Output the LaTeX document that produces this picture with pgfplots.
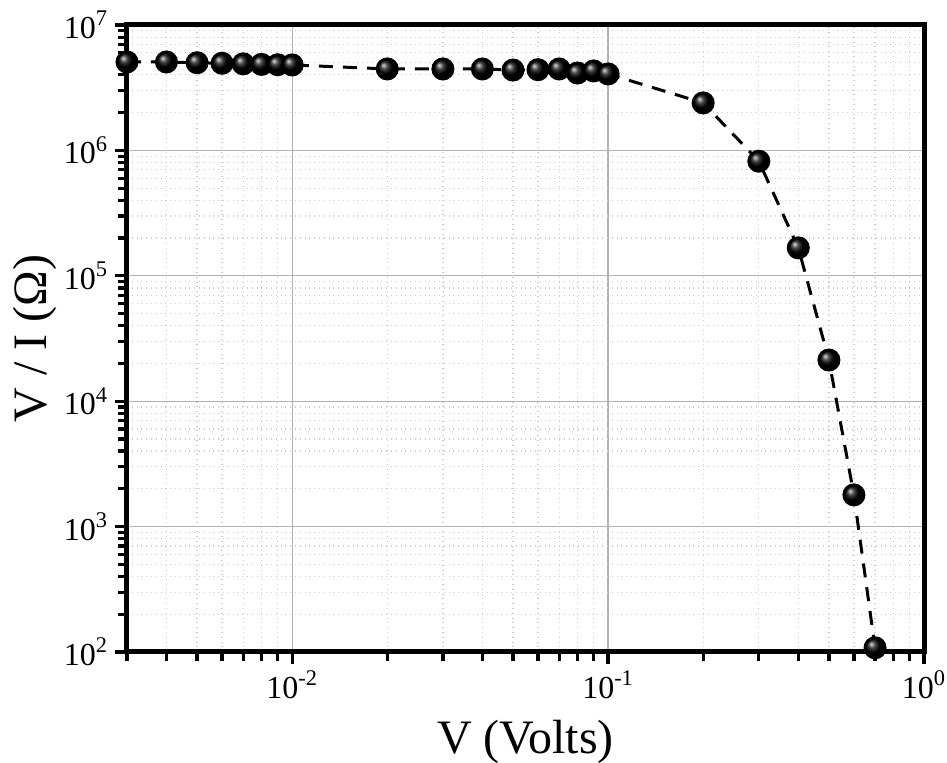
\documentclass[border=0pt]{standalone}
\usepackage{fontspec}
\setmainfont{Liberation Serif}
\usepackage{pgfplots}
\pgfplotsset{compat=1.18}
\begin{document}
\begin{tikzpicture}
\begin{loglogaxis}[
  at={(0,0)}, anchor=south west,
  scale only axis, width=398.5pt, height=313.5pt,
  xmin=0.003, xmax=1, ymin=1e2, ymax=1e7,
  xtick={0.01,0.1,1},
  xticklabels={10\textsuperscript{-2},10\textsuperscript{-1},10\textsuperscript{0}},
  ytick={1e2,1e3,1e4,1e5,1e6,1e7},
  yticklabels={10\textsuperscript{2},10\textsuperscript{3},10\textsuperscript{4},10\textsuperscript{5},10\textsuperscript{6},10\textsuperscript{7}},
  minor xtick={0.003,0.004,0.005,0.006,0.007,0.008,0.009,0.02,0.03,0.04,0.05,0.06,0.07,0.08,0.09,0.2,0.3,0.4,0.5,0.6,0.7,0.8,0.9},
  minor ytick={2e2,3e2,4e2,5e2,6e2,7e2,8e2,9e2,2e3,3e3,4e3,5e3,6e3,7e3,8e3,9e3,2e4,3e4,4e4,5e4,6e4,7e4,8e4,9e4,2e5,3e5,4e5,5e5,6e5,7e5,8e5,9e5,2e6,3e6,4e6,5e6,6e6,7e6,8e6,9e6},
  tick pos=left,
  tick align=outside,
  major tick length=6pt, minor tick length=4.5pt,
  every tick/.append style={black, line width=1.6pt, solid},
  every major tick/.append style={black, line width=1.6pt, solid},
  every minor tick/.append style={black, line width=1.6pt, solid},
  axis line style={line width=2.5pt},
  grid=both,
  major grid style={gray!60, line width=0.6pt, solid},
  minor grid style={gray!40, dotted, line width=0.6pt},
  tick label style={font=\fontsize{16}{18}\selectfont},
  label style={font=\fontsize{24}{28}\selectfont},
  xlabel={V (Volts)}, ylabel={V / I (Ω)},
  xlabel style={at={(axis description cs:0.5,-0.1611)}, anchor=base},
  ylabel style={at={(axis description cs:-0.1004,0.5)}, anchor=base},
]
\addplot[black, line width=1.5pt, dash pattern=on 7pt off 5pt,
  mark=ball, mark size=5pt, mark options={solid, ball color=black}]
  table {
x y
0.003 5.07e6
0.004 5.07e6
0.005 5.0e6
0.006 4.95e6
0.007 4.9e6
0.008 4.85e6
0.009 4.82e6
0.01 4.8e6
0.02 4.46e6
0.03 4.46e6
0.04 4.46e6
0.05 4.37e6
0.06 4.40e6
0.07 4.46e6
0.08 4.14e6
0.09 4.30e6
0.1 4.07e6
0.2 2.39e6
0.3 8.2e5
0.4 1.67e5
0.5 2.13e4
0.6 1.79e3
0.7 108
};
\end{loglogaxis}
\pgfresetboundingbox
\path[use as bounding box] (-63.5pt,-55.5pt) rectangle (410pt,326pt);
\end{tikzpicture}
\end{document}
